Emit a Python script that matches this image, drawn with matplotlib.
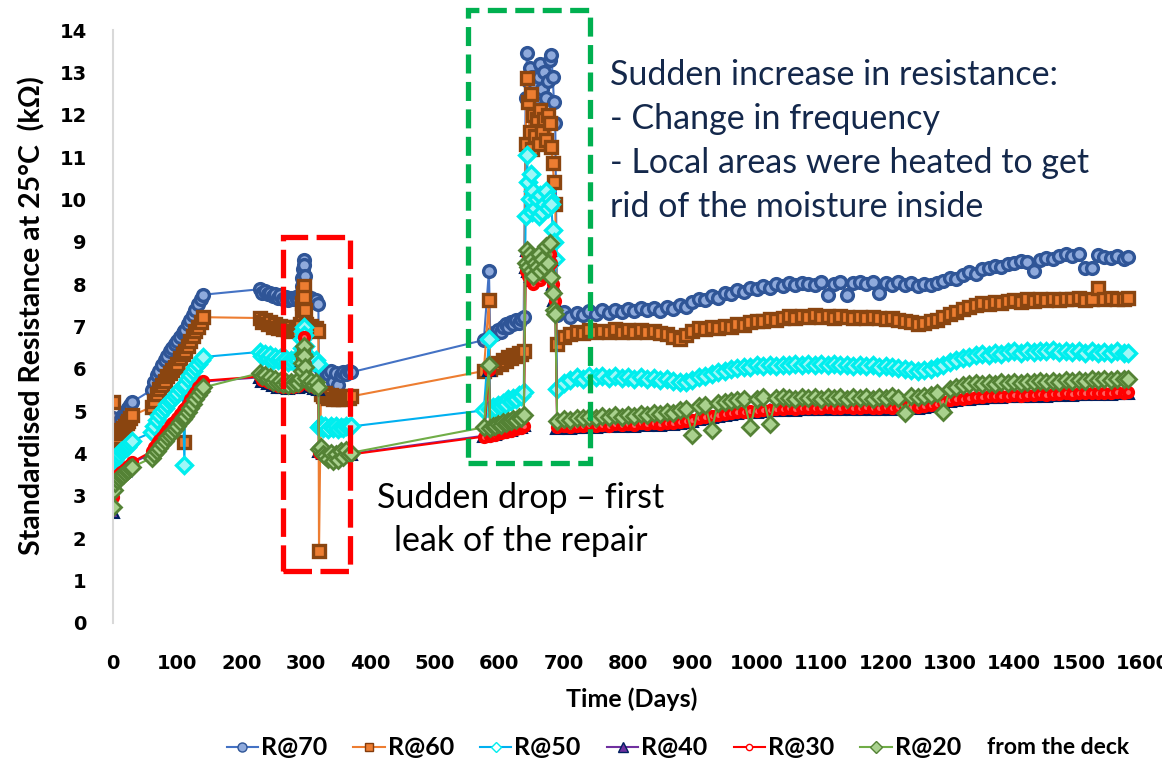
import matplotlib
matplotlib.use("Agg")
import matplotlib.pyplot as plt
from matplotlib.patches import Rectangle
from matplotlib.lines import Line2D

# sampling days (shared by all probes)
days = [
    0, 1, 3, 6, 9, 12, 15, 18, 21, 24, 27, 30,
    60, 64, 68, 72, 76, 80, 84, 88, 92, 96, 100, 104, 108, 111, 112, 116, 120, 124, 128, 132, 136, 140,
    228, 232, 236, 240, 244, 248, 252, 256, 260, 264, 268, 272, 276, 280, 284, 288, 291, 293, 294, 295,
    296, 297, 298, 300, 304, 308, 312, 316, 319,
    320, 323, 326, 330, 334, 338, 342, 346, 350, 354, 358, 362, 366, 370,
    576, 584, 586, 590, 594, 598, 602, 606, 610, 614, 618, 622, 626, 630, 634, 638,
    641, 643, 645, 647, 649, 651, 653, 655, 658, 661, 664, 667, 670, 673, 676, 679, 681, 683, 685, 687,
    690, 700, 710, 720, 730, 740, 750, 760, 770, 780,
    790, 800, 810, 820, 830, 840, 850, 860, 870, 880,
    890, 900, 910, 920, 930, 940, 950, 960, 970, 980,
    990, 1000, 1010, 1020, 1030, 1040, 1050, 1060, 1070, 1080,
    1090, 1100, 1110, 1120, 1130, 1140, 1150, 1160, 1170, 1180,
    1190, 1200, 1210, 1220, 1230, 1240, 1250, 1260, 1270, 1280,
    1290, 1300, 1310, 1320, 1330, 1340, 1350, 1360, 1370, 1380,
    1390, 1400, 1410, 1420, 1430, 1440, 1450, 1460, 1470, 1480,
    1490, 1500, 1510, 1520, 1530, 1540, 1550, 1560, 1570, 1576,
]

# standardised resistance (kOhm) at each depth
r70 = [
    4.85, 4.40, 4.55, 4.65, 4.75, 4.82, 4.90, 4.95, 5.02, 5.08, 5.15, 5.22,
    5.50, 5.70, 5.85, 5.95, 6.10, 6.20, 6.30, 6.42, 6.50, 6.58, 6.65, 6.75, 6.85, 6.90, 6.92, 7.05, 7.15, 7.28, 7.40, 7.52, 7.65, 7.75,
    7.88, 7.80, 7.84, 7.76, 7.80, 7.72, 7.76, 7.68, 7.74, 7.66, 7.70, 7.62, 7.68, 7.64, 7.70, 7.66, 7.75, 7.95, 8.15, 8.35,
    8.58, 8.45, 8.20, 7.72, 7.62, 7.68, 7.58, 7.62, 7.52,
    6.05, 6.00, 5.92, 5.96, 5.88, 5.94, 5.70, 5.90, 5.62, 5.86, 5.92, 5.88, 5.95, 5.92,
    6.68, 8.32, 6.78, 6.85, 6.82, 6.92, 6.88, 6.98, 7.05, 7.00, 7.10, 7.05, 7.15, 7.08, 7.18, 7.22,
    12.4, 13.45, 12.8, 13.1, 12.5, 12.9, 12.2, 12.7, 12.4, 12.9, 13.2, 12.6, 13.0, 12.4, 12.8, 13.3, 13.4, 12.9, 12.3, 11.8,
    7.28, 7.35, 7.22, 7.33, 7.27, 7.36, 7.30, 7.38, 7.32, 7.40,
    7.34, 7.42, 7.36, 7.44, 7.38, 7.43, 7.37, 7.46, 7.41, 7.50,
    7.47, 7.58, 7.66, 7.62, 7.72, 7.68, 7.80, 7.76, 7.85, 7.82,
    7.90, 7.88, 7.95, 7.92, 8.00, 7.96, 8.02, 7.97, 8.03, 8.00,
    7.98, 8.04, 7.75, 8.01, 8.05, 7.75, 8.02, 8.06, 8.00, 8.04,
    7.80, 8.03, 7.99, 8.04, 7.98, 8.02, 7.96, 8.00, 7.97, 8.03,
    8.08, 8.15, 8.12, 8.22, 8.28, 8.25, 8.35, 8.38, 8.42, 8.40,
    8.47, 8.50, 8.55, 8.52, 8.30, 8.58, 8.62, 8.60, 8.66, 8.70,
    8.66, 8.72, 8.38, 8.38, 8.68, 8.64, 8.62, 8.66, 8.60, 8.63,
]
r60 = [
    5.22, 4.25, 4.32, 4.40, 4.48, 4.55, 4.60, 4.66, 4.72, 4.78, 4.84, 4.90,
    5.10, 5.25, 5.40, 5.52, 5.62, 5.72, 5.82, 5.90, 5.98, 6.05, 6.12, 6.25, 6.35, 4.28, 6.42, 6.55, 6.65, 6.78, 6.90, 7.00, 7.10, 7.22,
    7.20, 7.10, 7.15, 7.05, 7.10, 7.00, 7.06, 6.96, 7.02, 6.94, 7.00, 6.92, 6.98, 6.90, 6.95, 6.92, 7.05, 7.30, 7.55, 7.80,
    7.95, 7.70, 7.40, 7.05, 6.98, 7.02, 6.92, 6.96, 6.90,
    1.70, 5.40, 5.35, 5.42, 5.32, 5.38, 5.30, 5.36, 5.28, 5.34, 5.30, 5.36, 5.32, 5.35,
    5.95, 7.62, 6.00, 6.08, 6.05, 6.15, 6.12, 6.22, 6.18, 6.28, 6.25, 6.32, 6.30, 6.38, 6.35, 6.42,
    11.3, 12.87, 12.3, 11.6, 12.5, 11.2, 12.0, 11.5, 11.9, 11.3, 12.1, 11.6, 11.9, 11.4, 12.0, 11.8, 11.24, 10.85, 10.4, 9.9,
    6.58, 6.75, 6.82, 6.88, 6.84, 6.92, 6.87, 6.90, 6.86, 6.93,
    6.88, 6.91, 6.87, 6.92, 6.86, 6.90, 6.85, 6.82, 6.76, 6.70,
    6.80, 6.90, 6.96, 6.93, 6.99, 6.96, 7.02, 7.00, 7.06, 7.04,
    7.10, 7.13, 7.12, 7.18, 7.16, 7.20, 7.24, 7.21, 7.25, 7.22,
    7.26, 7.23, 7.25, 7.21, 7.24, 7.22, 7.20, 7.23, 7.19, 7.22,
    7.20, 7.18, 7.20, 7.16, 7.14, 7.10, 7.06, 7.09, 7.12, 7.15,
    7.22, 7.30, 7.34, 7.42, 7.47, 7.50, 7.55, 7.53, 7.58, 7.56,
    7.60, 7.62, 7.59, 7.64, 7.61, 7.66, 7.63, 7.65, 7.62, 7.66,
    7.64, 7.67, 7.63, 7.66, 7.90, 7.65, 7.68, 7.64, 7.66, 7.67,
]
r50 = [
    3.80, 3.85, 3.90, 3.95, 4.00, 4.05, 4.08, 4.12, 4.15, 4.20, 4.25, 4.30,
    4.50, 4.65, 4.80, 4.92, 5.00, 5.08, 5.17, 5.25, 5.30, 5.35, 5.42, 5.52, 5.60, 3.73, 5.65, 5.75, 5.85, 5.95, 6.05, 6.12, 6.20, 6.28,
    6.40, 6.30, 6.35, 6.25, 6.32, 6.22, 6.28, 6.20, 6.26, 6.18, 6.24, 6.16, 6.22, 6.18, 6.24, 6.20, 6.30, 6.50, 6.70, 6.90,
    7.00, 6.80, 6.55, 6.25, 6.18, 6.24, 6.16, 6.20, 6.12,
    4.62, 4.68, 4.60, 4.66, 4.58, 4.64, 4.60, 4.66, 4.58, 4.63, 4.60, 4.65, 4.62, 4.64,
    5.02, 6.70, 5.05, 5.10, 5.08, 5.15, 5.12, 5.20, 5.18, 5.28, 5.25, 5.32, 5.30, 5.38, 5.35, 5.45,
    9.6, 11.05, 10.4, 10.0, 10.6, 9.7, 10.2, 9.8, 10.0, 9.6, 10.1, 9.7, 9.9, 10.2, 9.8, 10.0, 9.9, 9.28, 9.0, 8.6,
    5.52, 5.66, 5.74, 5.80, 5.77, 5.84, 5.80, 5.83, 5.78, 5.82,
    5.79, 5.81, 5.77, 5.80, 5.76, 5.78, 5.74, 5.76, 5.72, 5.70,
    5.68, 5.74, 5.80, 5.84, 5.88, 5.92, 5.95, 5.99, 6.02, 6.04,
    6.05, 6.08, 6.06, 6.09, 6.07, 6.10, 6.08, 6.11, 6.09, 6.12,
    6.10, 6.11, 6.09, 6.12, 6.08, 6.10, 6.07, 6.09, 6.06, 6.08,
    6.05, 6.07, 6.04, 6.02, 6.00, 5.98, 5.96, 5.98, 6.00, 6.04,
    6.10, 6.16, 6.20, 6.25, 6.28, 6.32, 6.35, 6.33, 6.37, 6.35,
    6.39, 6.41, 6.38, 6.42, 6.40, 6.43, 6.41, 6.44, 6.40, 6.42,
    6.39, 6.42, 6.38, 6.41, 6.37, 6.40, 6.38, 6.41, 6.37, 6.38,
]
r40 = [
    2.62, 3.35, 3.40, 3.45, 3.50, 3.53, 3.57, 3.60, 3.65, 3.68, 3.72, 3.78,
    4.00, 4.10, 4.20, 4.28, 4.36, 4.44, 4.52, 4.60, 4.68, 4.74, 4.80, 4.90, 4.98, 5.02, 5.04, 5.14, 5.24, 5.34, 5.42, 5.52, 5.60, 5.70,
    5.80, 5.72, 5.76, 5.66, 5.70, 5.62, 5.68, 5.58, 5.64, 5.56, 5.62, 5.55, 5.60, 5.56, 5.62, 5.58, 5.70, 5.95, 6.20, 6.45,
    6.65, 6.40, 6.10, 5.70, 5.60, 5.65, 5.55, 5.60, 5.52,
    4.05, 4.10, 4.02, 4.06, 3.98, 4.04, 3.96, 4.02, 3.98, 4.04, 4.00, 4.06, 4.02, 4.00,
    4.42, 5.97, 4.44, 4.48, 4.46, 4.52, 4.50, 4.55, 4.53, 4.58, 4.56, 4.62, 4.60, 4.65, 4.63, 4.68,
    8.4, 8.8, 8.3, 8.6, 8.2, 8.5, 8.1, 8.4, 8.3, 8.6, 8.2, 8.5, 8.3, 8.7, 8.4, 8.8, 8.6, 8.0, 7.63, 7.5,
    4.60, 4.62, 4.61, 4.63, 4.62, 4.65, 4.63, 4.66, 4.64, 4.67,
    4.65, 4.68, 4.66, 4.69, 4.67, 4.70, 4.68, 4.71, 4.70, 4.73,
    4.74, 4.78, 4.81, 4.84, 4.86, 4.88, 4.91, 4.93, 4.95, 4.97,
    4.98, 4.99, 5.01, 5.02, 5.03, 5.04, 5.05, 5.04, 5.06, 5.05,
    5.06, 5.05, 5.07, 5.06, 5.05, 5.07, 5.06, 5.05, 5.07, 5.06,
    5.05, 5.07, 5.06, 5.08, 5.07, 5.09, 5.08, 5.10, 5.12, 5.15,
    5.20, 5.24, 5.26, 5.28, 5.30, 5.31, 5.32, 5.33, 5.34, 5.33,
    5.35, 5.36, 5.35, 5.37, 5.36, 5.38, 5.37, 5.39, 5.38, 5.40,
    5.39, 5.41, 5.40, 5.42, 5.41, 5.42, 5.41, 5.43, 5.42, 5.42,
]
r30 = [
    2.97, 3.38, 3.43, 3.48, 3.52, 3.56, 3.60, 3.63, 3.67, 3.70, 3.74, 3.80,
    4.05, 4.15, 4.24, 4.32, 4.40, 4.48, 4.56, 4.64, 4.72, 4.78, 4.85, 4.94, 5.02, 5.06, 5.08, 5.18, 5.28, 5.38, 5.46, 5.56, 5.64, 5.72,
    5.82, 5.74, 5.78, 5.68, 5.72, 5.64, 5.70, 5.60, 5.66, 5.58, 5.64, 5.57, 5.62, 5.58, 5.64, 5.60, 5.72, 5.98, 6.25, 6.50,
    6.75, 6.45, 6.12, 5.72, 5.62, 5.67, 5.57, 5.62, 5.54,
    4.02, 4.08, 4.00, 4.04, 3.96, 4.02, 3.94, 4.00, 3.96, 4.02, 3.98, 4.04, 4.00, 3.98,
    4.40, 5.97, 4.42, 4.46, 4.44, 4.50, 4.48, 4.53, 4.51, 4.56, 4.54, 4.60, 4.58, 4.63, 4.61, 4.66,
    8.3, 8.7, 8.2, 8.5, 8.1, 8.4, 8.0, 8.3, 8.2, 8.5, 8.1, 8.4, 8.2, 8.6, 8.3, 8.7, 8.5, 8.0, 7.8, 7.6,
    4.62, 4.64, 4.63, 4.66, 4.64, 4.67, 4.65, 4.68, 4.66, 4.69,
    4.67, 4.70, 4.68, 4.71, 4.69, 4.72, 4.70, 4.73, 4.72, 4.75,
    4.76, 4.80, 4.83, 4.86, 4.88, 4.90, 4.93, 4.95, 4.97, 4.99,
    5.00, 5.01, 5.03, 5.04, 5.05, 5.06, 5.07, 5.06, 5.08, 5.07,
    5.08, 5.07, 5.09, 5.08, 5.07, 5.09, 5.08, 5.07, 5.09, 5.08,
    5.07, 5.09, 5.08, 5.10, 5.09, 5.11, 5.10, 5.12, 5.14, 5.17,
    5.22, 5.26, 5.28, 5.30, 5.32, 5.33, 5.34, 5.35, 5.36, 5.35,
    5.37, 5.38, 5.37, 5.39, 5.38, 5.40, 5.39, 5.41, 5.40, 5.42,
    5.41, 5.43, 5.42, 5.44, 5.43, 5.44, 5.43, 5.45, 5.44, 5.46,
]
r20 = [
    2.74, 3.13, 3.30, 3.38, 3.42, 3.47, 3.50, 3.54, 3.58, 3.62, 3.66, 3.68,
    3.90, 3.98, 4.06, 4.14, 4.22, 4.30, 4.38, 4.45, 4.52, 4.58, 4.64, 4.74, 4.82, 4.86, 4.88, 4.98, 5.08, 5.18, 5.28, 5.38, 5.48, 5.56,
    5.90, 5.82, 5.86, 5.75, 5.80, 5.70, 5.76, 5.66, 5.72, 5.64, 5.70, 5.62, 5.68, 5.64, 5.70, 5.66, 5.78, 5.95, 6.15, 6.35,
    6.55, 6.30, 6.05, 5.78, 5.66, 5.72, 5.62, 5.68, 5.58,
    4.10, 4.15, 4.00, 3.95, 3.88, 4.02, 3.82, 3.98, 3.86, 4.05, 3.92, 4.08, 3.96, 4.02,
    4.62, 6.08, 4.60, 4.66, 4.64, 4.70, 4.68, 4.74, 4.72, 4.78, 4.76, 4.82, 4.80, 4.86, 4.84, 4.92,
    8.5, 8.8, 8.4, 8.7, 8.3, 8.6, 8.2, 8.5, 8.4, 8.7, 8.3, 8.6, 8.4, 8.9, 8.5, 8.97, 8.17, 7.8, 7.39, 7.3,
    4.78, 4.82, 4.80, 4.85, 4.83, 4.87, 4.84, 4.88, 4.86, 4.90,
    4.87, 4.92, 4.89, 4.94, 4.91, 4.96, 4.93, 4.98, 4.95, 5.02,
    5.05, 4.45, 5.12, 5.15, 4.56, 5.20, 5.22, 5.25, 5.27, 5.28,
    4.62, 5.30, 5.33, 4.70, 5.31, 5.33, 5.32, 5.30, 5.34, 5.31,
    5.33, 5.30, 5.34, 5.31, 5.33, 5.30, 5.34, 5.31, 5.33, 5.30,
    5.34, 5.31, 5.35, 5.32, 4.95, 5.36, 5.33, 5.35, 5.38, 5.42,
    4.98, 5.52, 5.58, 5.62, 5.64, 5.66, 5.64, 5.67, 5.65, 5.68,
    5.66, 5.69, 5.67, 5.70, 5.68, 5.71, 5.69, 5.72, 5.70, 5.73,
    5.71, 5.74, 5.72, 5.75, 5.73, 5.76, 5.74, 5.77, 5.75, 5.76,
]

labels = ["R@70", "R@60", "R@50", "R@40", "R@30", "R@20"]

fig = plt.figure(figsize=(11.62, 7.71), dpi=100)
ax = fig.add_axes([113 / 1162, 1 - 623 / 771, 1030 / 1162, 593 / 771])

# (values, line colour, marker, size, face, edge, edge width)
series = [
    (r70, "#4472C4", "o", 8.5, "#8FAADC", "#2F5597", 2.4),
    (r60, "#ED7D31", "s", 8.0, "#ED7D31", "#8A4510", 2.4),
    (r50, "#00B0F0", "D", 8.0, "#9FF7F7", "#00EEEE", 2.4),
    (r40, "#7030A0", "^", 8.0, "#7030A0", "#002060", 1.5),
    (r30, "#FF0000", "o", 6.5, "#FF6060", "#FF0000", 3.0),
    (r20, "#70AD47", "D", 8.5, "#A9D18E", "#548235", 2.0),
]
for vals, lc, mk, ms, fc, ec, mw in series:
    ax.plot(days, vals, color=lc, lw=1.5, marker=mk, ms=ms, mfc=fc, mec=ec, mew=mw)

# legend keys drawn with the plain marker style
key_style = [
    ("#4472C4", "o", 6.5, "#8FAADC", "#2F5597"),
    ("#ED7D31", "s", 6.0, "#ED7D31", "#843C0C"),
    ("#00B0F0", "D", 5.5, "white", "#00EEEE"),
    ("#7030A0", "^", 7.0, "#7030A0", "#002060"),
    ("#FF0000", "o", 4.5, "white", "#FF0000"),
    ("#70AD47", "D", 6.0, "#A9D18E", "#548235"),
]
handles = [Line2D([], [], color=lc, lw=1.5, marker=mk, ms=ms, mfc=fc, mec=ec, mew=1.0)
           for lc, mk, ms, fc, ec in key_style]

ax.set_xlim(0, 1600)
ax.set_ylim(0, 14)
ax.set_xticks(range(0, 1601, 100))
ax.set_yticks(range(0, 15))
ax.tick_params(length=0, labelsize=14)
ax.tick_params(axis="y", pad=19)
ax.tick_params(axis="x", pad=22)
for t in ax.get_xticklabels() + ax.get_yticklabels():
    t.set_fontweight("bold")
for s in ["top", "right", "bottom"]:
    ax.spines[s].set_visible(False)
ax.spines["left"].set_color("#D9D9D9")
ax.spines["left"].set_linewidth(1.5)

lab_font = dict(family=["Lato", "DejaVu Sans"], fontweight="bold")
ax.set_ylabel("Standardised Resistance at 25°C  (kΩ)", fontsize=20.5, **lab_font)
ax.yaxis.set_label_coords(-0.066, 0.518)
ax.set_xlabel("Time (Days)", fontsize=18, va="top", **lab_font)
ax.xaxis.set_label_coords(0.504, -0.108)

# dashed boxes around the two events
ax.add_patch(Rectangle((264, 1.23), 104.5, 7.88, fill=False, ec="#FF0000", lw=3.8,
                       ls=(0, (5.4, 1.6)), clip_on=False, zorder=5))
ax.add_patch(Rectangle((552, 3.78), 189.7, 10.69, fill=False, ec="#00B050", lw=3.8,
                       ls=(0, (3.6, 1.6)), clip_on=False, zorder=5))

note_font = dict(family=["Lato", "DejaVu Sans"], fontsize=24.5)
note = ["Sudden increase in resistance:", "- Change in frequency",
        "- Local areas were heated to get", "rid of the moisture inside"]
for i, line in enumerate(note):
    fig.text(610 / 1162, 1 - (75 + 44 * i) / 771, line, va="center", ha="left",
             color="#14284B", **note_font)
for i, line in enumerate(["Sudden drop – first", "leak of the repair"]):
    fig.text(521 / 1162, 1 - (498 + 43 * i) / 771, line, va="center", ha="center",
             color="black", **note_font)

fig.legend(handles, labels, loc="center left", bbox_to_anchor=(214 / 1162, 1 - 748 / 771),
           ncol=6, frameon=False, handlelength=1.25, handletextpad=0.12, columnspacing=1.05,
           borderpad=0.0, prop=dict(family="Lato", weight="bold", size=18))
fig.text(987 / 1162, 1 - 748 / 771, "from the deck", va="center", ha="left",
         fontsize=16.5, family="Lato", fontweight="bold")

fig.savefig("out.png", dpi=100)
